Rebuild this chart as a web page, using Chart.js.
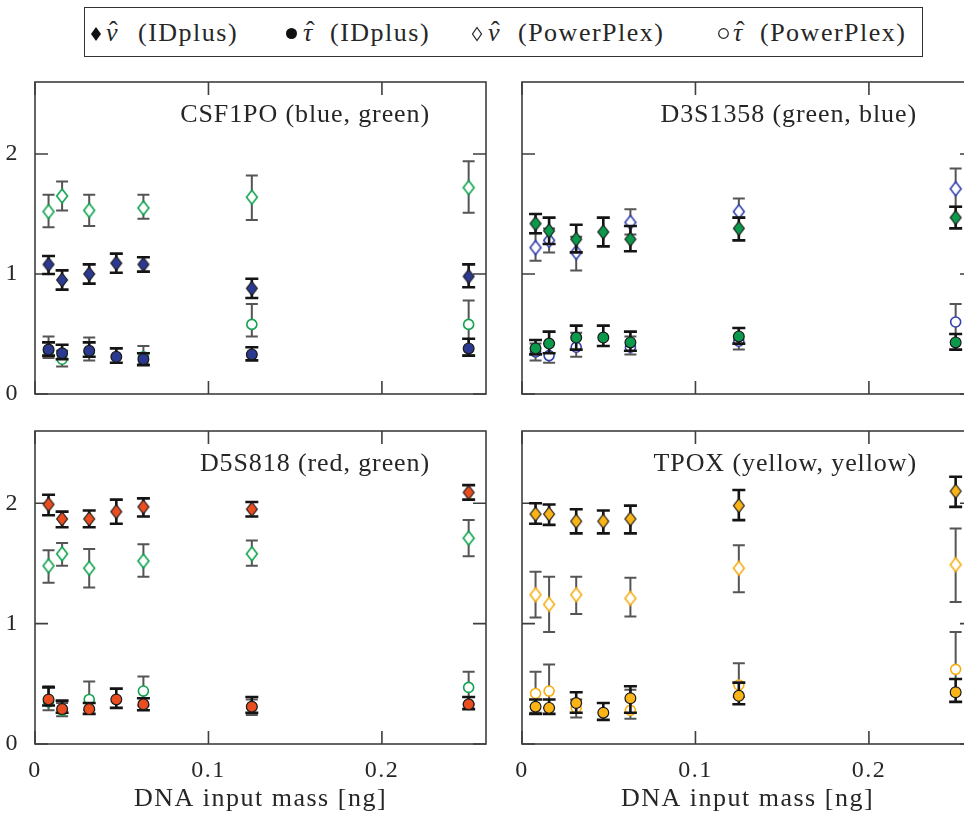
<!DOCTYPE html>
<html>
<head>
<meta charset="utf-8">
<title>IDplus vs PowerPlex</title>
<script src="https://cdn.jsdelivr.net/npm/chart.js@4.4.1/dist/chart.umd.min.js"></script>
<style>
  html, body { margin: 0; padding: 0; background: #fff; overflow: hidden; width: 964px; height: 820px; }
  body { position: relative; font-family: "Liberation Serif", serif; color: #262626; }
  .panel { position: absolute; }
  #leyenda { position: absolute; left: 84px; top: 7px; width: 839px; height: 50px; box-sizing: border-box; border: 1.5px solid #333; }
  .ley { position: absolute; top: 18px; font-size: 26px; line-height: 30px; letter-spacing: 1.5px; white-space: nowrap; }
  .ley i { position: relative; letter-spacing: 0; }
  .ley i b { position: absolute; left: 3px; top: -2px; font-weight: normal; font-style: normal; }
  .simbolo { position: absolute; }
</style>
</head>
<body>

<div id="leyenda"></div>
<svg class="simbolo" style="left:90px;top:26px" width="12" height="16"><path d="M6 1 L11 8 L6 15 L1 8 Z" fill="#111"/></svg>
<span class="ley" style="left:106px"><i>ν<b>ˆ</b></i></span>
<span class="ley" style="left:138px">(IDplus)</span>
<svg class="simbolo" style="left:285px;top:27px" width="13" height="13"><circle cx="6.5" cy="6.5" r="5.5" fill="#111"/></svg>
<span class="ley" style="left:303px"><i>τ<b>ˆ</b></i></span>
<span class="ley" style="left:330px">(IDplus)</span>
<svg class="simbolo" style="left:471px;top:26px" width="12" height="16"><path d="M6 1.5 L10.5 8 L6 14.5 L1.5 8 Z" fill="none" stroke="#222" stroke-width="1.2"/></svg>
<span class="ley" style="left:488px"><i>ν<b>ˆ</b></i></span>
<span class="ley" style="left:518px">(PowerPlex)</span>
<svg class="simbolo" style="left:717px;top:27px" width="13" height="13"><circle cx="6.5" cy="6.5" r="4.8" fill="none" stroke="#222" stroke-width="1.2"/></svg>
<span class="ley" style="left:733px"><i>τ<b>ˆ</b></i></span>
<span class="ley" style="left:760px">(PowerPlex)</span>

<div class="panel" style="left:0;top:70px"><canvas id="g1" width="490" height="340"></canvas></div>
<div class="panel" style="left:487px;top:70px"><canvas id="g2" width="490" height="340"></canvas></div>
<div class="panel" style="left:0;top:420px"><canvas id="g3" width="490" height="400"></canvas></div>
<div class="panel" style="left:487px;top:420px"><canvas id="g4" width="490" height="400"></canvas></div>

<script>
// Masas de ADN (ng) e intervalos de los ejes
const masasIDplus = [0.0078125, 0.015625, 0.03125, 0.046875, 0.0625, 0.125, 0.25];
const masasPowerPlex = [0.0078125, 0.015625, 0.03125, 0.0625, 0.125, 0.25];
const tiquesX = [0, 0.1, 0.2];
const tiquesY = [0, 1, 2];

// CSF1PO
const csf1poNuID = [1.08, 0.95, 1.00, 1.09, 1.08, 0.88, 0.98];
const csf1poNuIDErr = [[1.00, 1.15], [0.87, 1.03], [0.92, 1.08], [1.01, 1.17], [1.02, 1.14], [0.80, 0.96], [0.89, 1.08]];
const csf1poTauID = [0.37, 0.34, 0.36, 0.31, 0.29, 0.33, 0.38];
const csf1poTauIDErr = [[0.32, 0.43], [0.29, 0.41], [0.31, 0.43], [0.26, 0.38], [0.24, 0.34], [0.28, 0.39], [0.32, 0.46]];
const csf1poNuPP = [1.52, 1.65, 1.53, 1.55, 1.64, 1.72];
const csf1poNuPPErr = [[1.39, 1.66], [1.53, 1.77], [1.40, 1.66], [1.46, 1.66], [1.45, 1.82], [1.51, 1.94]];
const csf1poTauPP = [0.36, 0.29, 0.35, 0.31, 0.58, 0.58];
const csf1poTauPPErr = [[0.30, 0.48], [0.23, 0.36], [0.28, 0.47], [0.25, 0.40], [0.48, 0.75], [0.32, 0.78]];

// D3S1358
const d3s1358NuID = [1.42, 1.36, 1.29, 1.35, 1.29, 1.38, 1.47];
const d3s1358NuIDErr = [[1.34, 1.50], [1.25, 1.47], [1.18, 1.41], [1.23, 1.47], [1.19, 1.40], [1.28, 1.47], [1.38, 1.56]];
const d3s1358TauID = [0.38, 0.42, 0.47, 0.47, 0.43, 0.48, 0.43];
const d3s1358TauIDErr = [[0.33, 0.45], [0.34, 0.52], [0.37, 0.57], [0.40, 0.57], [0.36, 0.52], [0.42, 0.55], [0.37, 0.50]];
const d3s1358NuPP = [1.22, 1.28, 1.18, 1.43, 1.52, 1.71];
const d3s1358NuPPErr = [[1.11, 1.34], [1.18, 1.38], [1.03, 1.31], [1.33, 1.54], [1.47, 1.63], [1.56, 1.88]];
const d3s1358TauPP = [0.35, 0.32, 0.39, 0.39, 0.44, 0.60];
const d3s1358TauPPErr = [[0.28, 0.42], [0.26, 0.42], [0.31, 0.51], [0.33, 0.48], [0.37, 0.55], [0.50, 0.75]];

// D5S818
const d5s818NuID = [1.99, 1.87, 1.87, 1.93, 1.97, 1.95, 2.09];
const d5s818NuIDErr = [[1.90, 2.07], [1.80, 1.93], [1.80, 1.94], [1.83, 2.03], [1.89, 2.04], [1.89, 2.01], [2.03, 2.15]];
const d5s818TauID = [0.37, 0.29, 0.29, 0.37, 0.33, 0.31, 0.33];
const d5s818TauIDErr = [[0.32, 0.47], [0.26, 0.36], [0.25, 0.34], [0.30, 0.46], [0.28, 0.38], [0.26, 0.39], [0.29, 0.39]];
const d5s818NuPP = [1.48, 1.58, 1.46, 1.52, 1.58, 1.71];
const d5s818NuPPErr = [[1.34, 1.61], [1.48, 1.67], [1.30, 1.62], [1.39, 1.66], [1.48, 1.69], [1.56, 1.86]];
const d5s818TauPP = [0.35, 0.28, 0.37, 0.44, 0.31, 0.47];
const d5s818TauPPErr = [[0.28, 0.48], [0.23, 0.34], [0.28, 0.52], [0.32, 0.56], [0.24, 0.37], [0.33, 0.60]];

// TPOX
const tpoxNuID = [1.91, 1.91, 1.85, 1.85, 1.87, 1.98, 2.10];
const tpoxNuIDErr = [[1.83, 2.00], [1.82, 1.99], [1.75, 1.95], [1.75, 1.94], [1.75, 1.98], [1.86, 2.11], [1.97, 2.22]];
const tpoxTauID = [0.31, 0.30, 0.34, 0.26, 0.38, 0.40, 0.43];
const tpoxTauIDErr = [[0.25, 0.37], [0.25, 0.37], [0.26, 0.43], [0.20, 0.34], [0.26, 0.48], [0.33, 0.51], [0.35, 0.54]];
const tpoxNuPP = [1.24, 1.16, 1.24, 1.21, 1.46, 1.49];
const tpoxNuPPErr = [[1.05, 1.43], [0.93, 1.39], [1.08, 1.39], [1.06, 1.38], [1.26, 1.65], [1.18, 1.79]];
const tpoxTauPP = [0.42, 0.44, 0.30, 0.28, 0.49, 0.62];
const tpoxTauPPErr = [[0.26, 0.60], [0.30, 0.66], [0.22, 0.37], [0.21, 0.45], [0.39, 0.67], [0.54, 0.93]];

const FUENTE = '"Liberation Serif", serif';
const COLOR_TEXTO = '#262626';

// Rombo dibujado en un canvas pequeño para usarlo como pointStyle
function rombo(relleno, borde, grosor) {
  const c = document.createElement('canvas');
  c.width = 16;
  c.height = 18;
  const ctx = c.getContext('2d');
  ctx.beginPath();
  ctx.moveTo(8, 2);
  ctx.lineTo(13.4, 9);
  ctx.lineTo(8, 16);
  ctx.lineTo(2.6, 9);
  ctx.closePath();
  ctx.fillStyle = relleno;
  ctx.fill();
  ctx.lineWidth = grosor;
  ctx.strokeStyle = borde;
  ctx.stroke();
  return c;
}

function puntos(masas, valores) {
  return masas.map((m, i) => ({ x: m, y: valores[i] }));
}

// Barras de error, se pintan justo antes de los puntos de cada serie
const barrasError = {
  id: 'barrasError',
  beforeDatasetDraw(chart, args) {
    const ds = chart.data.datasets[args.index];
    if (!ds.errores) return;
    const ctx = chart.ctx;
    const y = chart.scales.y;
    ctx.save();
    ctx.strokeStyle = ds.colorBarra;
    ctx.lineWidth = ds.grosorBarra;
    ctx.lineCap = 'butt';
    args.meta.data.forEach((p, i) => {
      const [bajo, alto] = ds.errores[i];
      const y1 = y.getPixelForValue(bajo);
      const y2 = y.getPixelForValue(alto);
      const w = ds.anchoBarra;
      ctx.beginPath();
      ctx.moveTo(p.x, y1);
      ctx.lineTo(p.x, y2);
      ctx.moveTo(p.x - w, y1);
      ctx.lineTo(p.x + w, y1);
      ctx.moveTo(p.x - w, y2);
      ctx.lineTo(p.x + w, y2);
      ctx.stroke();
    });
    ctx.restore();
  }
};

// Marco, marcas hacia dentro en los cuatro lados y nombre del locus
const marco = {
  id: 'marco',
  beforeDraw(chart) {
    chart.ctx.letterSpacing = '1.5px';
  },
  beforeDatasetsDraw(chart, args, opts) {
    const { ctx, chartArea: a, scales } = chart;
    const largo = 13;
    ctx.save();
    ctx.strokeStyle = '#3f3f3f';
    ctx.lineWidth = 1.6;
    ctx.strokeRect(a.left, a.top, a.right - a.left, a.bottom - a.top);
    ctx.beginPath();
    scales.x.ticks.forEach(t => {
      const px = scales.x.getPixelForValue(t.value);
      ctx.moveTo(px, a.bottom);
      ctx.lineTo(px, a.bottom - largo);
      ctx.moveTo(px, a.top);
      ctx.lineTo(px, a.top + largo);
    });
    scales.y.ticks.forEach(t => {
      const py = scales.y.getPixelForValue(t.value);
      ctx.moveTo(a.left, py);
      ctx.lineTo(a.left + largo, py);
      ctx.moveTo(a.right, py);
      ctx.lineTo(a.right - largo, py);
    });
    ctx.stroke();

    ctx.letterSpacing = '0.9px';
    ctx.font = '26px ' + FUENTE;
    ctx.fillStyle = COLOR_TEXTO;
    ctx.textAlign = 'right';
    ctx.textBaseline = 'alphabetic';
    ctx.fillText(opts.texto, a.right - 56, a.top + 40);
    ctx.restore();
  }
};

// Quita el margen que Chart.js reserva para las etiquetas de los extremos
function sinRelleno(s) {
  s.paddingTop = 0;
  s.paddingBottom = 0;
  s.paddingLeft = 0;
  s.paddingRight = 0;
}

function crearPanel(id, locus, serie, colorID, colorPP, abajo, izquierda) {
  const ctx = document.getElementById(id).getContext('2d');
  const datasets = [
    {
      label: 'nu IDplus',
      data: puntos(masasIDplus, serie.nuID),
      errores: serie.nuIDErr,
      colorBarra: '#141414', grosorBarra: 2.6, anchoBarra: 6.5,
      pointStyle: rombo(colorID, '#1a1a1a', 1.2),
      pointRadius: 6
    },
    {
      label: 'tau IDplus',
      data: puntos(masasIDplus, serie.tauID),
      errores: serie.tauIDErr,
      colorBarra: '#141414', grosorBarra: 2.6, anchoBarra: 6.5,
      pointStyle: 'circle',
      pointRadius: 5.4,
      backgroundColor: colorID,
      borderColor: '#1a1a1a',
      borderWidth: 1.2
    },
    {
      label: 'nu PowerPlex',
      data: puntos(masasPowerPlex, serie.nuPP),
      errores: serie.nuPPErr,
      colorBarra: '#555555', grosorBarra: 2, anchoBarra: 6,
      pointStyle: rombo('#ffffff', colorPP, 1.6),
      pointRadius: 6
    },
    {
      label: 'tau PowerPlex',
      data: puntos(masasPowerPlex, serie.tauPP),
      errores: serie.tauPPErr,
      colorBarra: '#555555', grosorBarra: 2, anchoBarra: 6,
      pointStyle: 'circle',
      pointRadius: 5,
      backgroundColor: '#ffffff',
      borderColor: colorPP,
      borderWidth: 1.6
    }
  ];

  return new Chart(ctx, {
    type: 'scatter',
    data: { datasets },
    options: {
      responsive: false,
      animation: false,
      events: [],
      layout: {
        autoPadding: false,
        padding: { top: abajo ? 11 : 12, right: 4, bottom: abajo ? 0 : 16, left: 0 }
      },
      plugins: {
        legend: { display: false },
        tooltip: { enabled: false },
        marco: { texto: locus }
      },
      scales: {
        x: {
          type: 'linear',
          min: 0,
          max: 0.26,
          grid: { display: false },
          border: { display: false },
          afterBuildTicks: s => { s.ticks = tiquesX.map(v => ({ value: v })); },
          afterFit: s => { s.height = abajo ? 76 : 0; sinRelleno(s); },
          ticks: {
            display: abajo,
            padding: 4,
            color: COLOR_TEXTO,
            font: { family: FUENTE, size: 24 },
            callback: v => String(v)
          },
          title: {
            display: abajo,
            text: 'DNA input mass [ng]',
            color: COLOR_TEXTO,
            font: { family: FUENTE, size: 26 },
            padding: { top: 0, bottom: 5 }
          }
        },
        y: {
          type: 'linear',
          min: 0,
          max: 2.6,
          grid: { display: false },
          border: { display: false },
          afterBuildTicks: s => { s.ticks = tiquesY.map(v => ({ value: v })); },
          afterFit: s => { s.width = 35; sinRelleno(s); },
          ticks: {
            display: izquierda,
            padding: 8,
            color: COLOR_TEXTO,
            font: { family: FUENTE, size: 24 },
            callback: v => String(v)
          }
        }
      }
    },
    plugins: [barrasError, marco]
  });
}

crearPanel('g1', 'CSF1PO (blue, green)', {
  nuID: csf1poNuID, nuIDErr: csf1poNuIDErr, tauID: csf1poTauID, tauIDErr: csf1poTauIDErr,
  nuPP: csf1poNuPP, nuPPErr: csf1poNuPPErr, tauPP: csf1poTauPP, tauPPErr: csf1poTauPPErr
}, '#2b3990', '#10a24e', false, true);

crearPanel('g2', 'D3S1358 (green, blue)', {
  nuID: d3s1358NuID, nuIDErr: d3s1358NuIDErr, tauID: d3s1358TauID, tauIDErr: d3s1358TauIDErr,
  nuPP: d3s1358NuPP, nuPPErr: d3s1358NuPPErr, tauPP: d3s1358TauPP, tauPPErr: d3s1358TauPPErr
}, '#0b9a4b', '#3241ad', false, false);

crearPanel('g3', 'D5S818 (red, green)', {
  nuID: d5s818NuID, nuIDErr: d5s818NuIDErr, tauID: d5s818TauID, tauIDErr: d5s818TauIDErr,
  nuPP: d5s818NuPP, nuPPErr: d5s818NuPPErr, tauPP: d5s818TauPP, tauPPErr: d5s818TauPPErr
}, '#ea4d20', '#10a24e', true, true);

crearPanel('g4', 'TPOX (yellow, yellow)', {
  nuID: tpoxNuID, nuIDErr: tpoxNuIDErr, tauID: tpoxTauID, tauIDErr: tpoxTauIDErr,
  nuPP: tpoxNuPP, nuPPErr: tpoxNuPPErr, tauPP: tpoxTauPP, tauPPErr: tpoxTauPPErr
}, '#fbb416', '#f6ae14', true, false);
</script>
</body>
</html>
